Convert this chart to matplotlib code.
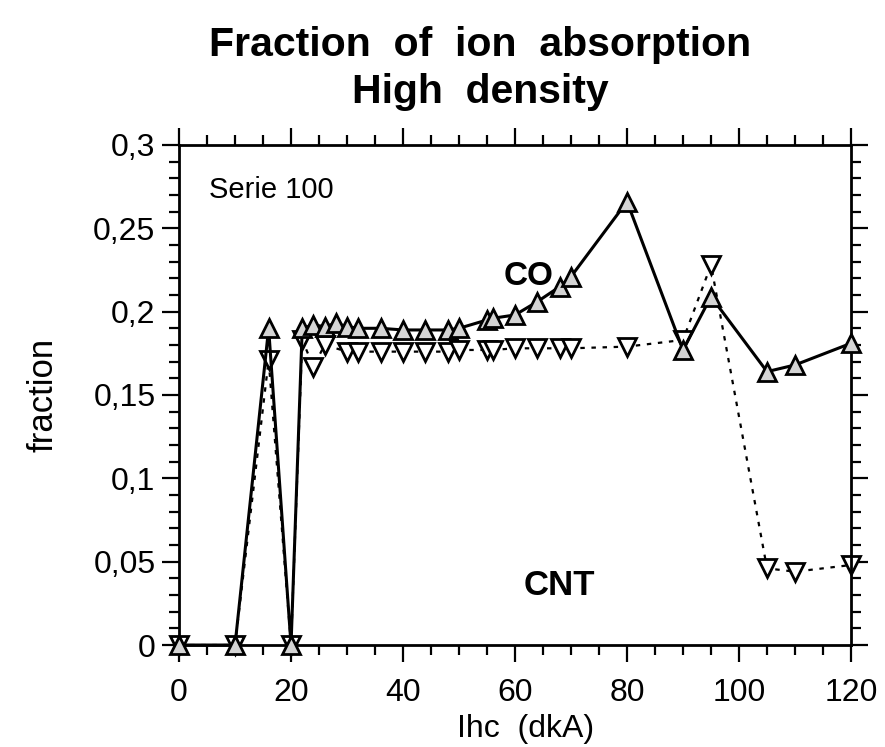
import numpy as np
import matplotlib.pyplot as plt
from matplotlib.ticker import MultipleLocator

plt.rcParams['font.family'] = ['Liberation Sans', 'DejaVu Sans']

# Ihc (dkA) and absorbed fractions
co_x = [0, 10, 16, 20, 22, 24, 26, 28, 30, 32, 36, 40, 44, 48, 50,
        55, 56, 60, 64, 68, 70, 80, 90, 95, 105, 110, 120]
co_y = [0, 0, 0.190, 0, 0.190, 0.192, 0.191, 0.193, 0.191, 0.190, 0.190,
        0.189, 0.189, 0.189, 0.190, 0.195, 0.196, 0.198, 0.206, 0.215,
        0.221, 0.266, 0.177, 0.209, 0.164, 0.168, 0.181]

cnt_x = [0, 10, 16, 20, 22, 24, 26, 30, 32, 36, 40, 44, 48, 50,
         55, 56, 60, 64, 68, 70, 80, 90, 95, 105, 110, 120]
cnt_y = [0, 0, 0.171, 0, 0.183, 0.167, 0.180, 0.176, 0.176, 0.176, 0.176,
         0.176, 0.176, 0.177, 0.177, 0.177, 0.178, 0.178, 0.178, 0.178,
         0.179, 0.183, 0.228, 0.046, 0.044, 0.048]

xticks = [0, 20, 40, 60, 80, 100, 120]
yticks = [0, 0.05, 0.1, 0.15, 0.2, 0.25, 0.3]
ylabels = ['0', '0,05', '0,1', '0,15', '0,2', '0,25', '0,3']

fig = plt.figure(figsize=(8.85, 7.47), dpi=100)
ax = fig.add_axes([0.2023, 0.1365, 0.7593, 0.6695])

ax.plot(co_x, co_y, '-', color='black', lw=2.2, marker='^', ms=13, mew=2,
        mfc='#d4d4d4', mec='black', clip_on=False, zorder=3)
ax.plot(cnt_x, cnt_y, color='black', lw=1.6, ls=(0, (2, 3)), marker='v',
        ms=13, mew=2, mfc='white', mec='black', clip_on=False, zorder=2)

ax.set_xlim(0, 120)
ax.set_ylim(0, 0.3)
ax.set_xticks(xticks)
ax.set_yticks(yticks)
ax.set_yticklabels(ylabels)
ax.xaxis.set_minor_locator(MultipleLocator(5))
ax.yaxis.set_minor_locator(MultipleLocator(0.01))
ax.tick_params(which='both', direction='out', top=True, right=True,
               width=1.6, labelsize=23, labeltop=False, labelright=False)
ax.tick_params(which='major', length=12)
ax.tick_params(axis='x', which='major', pad=12)
ax.tick_params(axis='y', which='major', pad=5)
ax.tick_params(which='minor', length=7)
for s in ax.spines.values():
    s.set_linewidth(2)

ax.set_xlabel('Ihc  (dkA)', fontsize=23)
ax.xaxis.set_label_coords(0.515, -0.138)
ax.set_ylabel('fraction', fontsize=25, labelpad=24)

ax.text(0.045, 0.91, 'Serie 100', transform=ax.transAxes, fontsize=21,
        va='center')
ax.text(62.5, 0.221, 'CO', fontsize=24, fontweight='bold', ha='center',
        va='center')
ax.text(68, 0.036, 'CNT', fontsize=25, fontweight='bold', ha='center',
        va='center')

fig.text(0.543, 1 - 45 / 747, 'Fraction  of  ion  absorption',
         ha='center', va='center', fontsize=29.5, fontweight='bold')
fig.text(0.543, 1 - 92 / 747, 'High  density',
         ha='center', va='center', fontsize=29.5, fontweight='bold')

fig.savefig('out.png', dpi=100)
